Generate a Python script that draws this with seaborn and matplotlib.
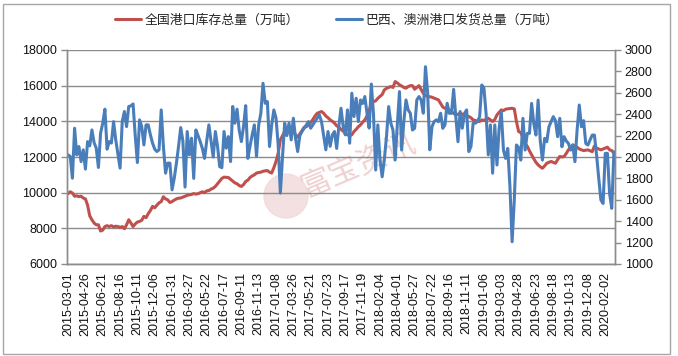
import matplotlib
matplotlib.use("Agg")
import matplotlib.pyplot as plt
import matplotlib.transforms as mtransforms
from matplotlib.patches import Rectangle, Circle
from matplotlib.font_manager import FontProperties
import numpy as np
import pandas as pd
import seaborn as sns

# 全国港口库存总量（万吨），周度数据，左轴
stock = [
    9950, 10050, 9980, 9800, 9820, 9780, 9800, 9700, 9650, 9300,
    8700, 8480, 8300, 8200, 8200, 7850, 7900, 8100, 8150, 8100,
    8150, 8080, 8120, 8100, 8050, 8100, 7980, 8200, 8480, 8300,
    8100, 8250, 8350, 8390, 8450, 8670, 8600, 8820, 9000, 9230,
    9150, 9300, 9430, 9500, 9770, 9650, 9600, 9450, 9500, 9580,
    9650, 9690, 9700, 9750, 9800, 9850, 9880, 9900, 9950, 9920,
    9940, 10000, 10050, 10000, 10100, 10120, 10200, 10250, 10350, 10500,
    10650, 10800, 10870, 10860, 10850, 10750, 10650, 10550, 10500, 10400,
    10350, 10450, 10630, 10700, 10850, 10940, 11000, 11100, 11130, 11150,
    11200, 11220, 11240, 11150, 11100, 11400, 11750, 12210, 12960, 13200,
    13430, 13380, 13480, 13520, 13400, 13250, 13110, 13300, 13500, 13670,
    13700, 13800, 13930, 14100, 14300, 14450, 14500, 14550, 14450, 14300,
    14200, 14080, 14000, 13900, 13750, 13670, 13550, 13450, 13330, 13250,
    13180, 13250, 13430, 13550, 13700, 13800, 13950, 14080, 14300, 14600,
    15010, 15100, 15150, 15290, 15400, 15500, 15760, 15850, 15900, 15950,
    15900, 16230, 16150, 16050, 15980, 15900, 15860, 15950, 16000, 16000,
    15800, 15900, 16000, 15780, 15570, 15450, 15390, 15380, 15350, 15300,
    15250, 15200, 15000, 14800, 14730, 14680, 14640, 14550, 14450, 14360,
    14400, 14450, 14400, 14350, 14300, 14270, 14200, 14080, 14050, 13990,
    14000, 14080, 14050, 14120, 14170, 14080, 13990, 14100, 14360, 14500,
    14640, 14600, 14680, 14700, 14720, 14730, 14700, 13990, 13430, 13370,
    13100, 12770, 12600, 12350, 12120, 11900, 11700, 11560, 11450, 11370,
    11500, 11650, 11700, 11750, 11700, 11650, 11850, 12030, 12000, 12030,
    12200, 12400, 12550, 12680, 12600, 12550, 12450, 12400, 12360, 12380,
    12400, 12350, 12300, 12620, 12500, 12450, 12400, 12450, 12500, 12550,
    12400, 12360, 12210,
]

# 巴西、澳洲港口发货总量（万吨），右轴
shipment = [
    2020, 2005, 1802, 2269, 2020, 2098, 1957, 2067, 1887, 2144,
    2104, 2253, 2135, 2083, 1902, 2222, 2316, 2447, 2073, 2144,
    2130, 2331, 2160, 2030, 1896, 2331, 2425, 2284, 2472, 2478,
    2496, 2200, 1948, 2347, 2284, 2113, 2300, 2300, 2207, 2130,
    2073, 2051, 2067, 2440, 2100, 1849, 1943, 1943, 1693, 1800,
    1940, 2100, 2275, 2150, 1719, 2238, 2020, 2176, 1800, 2253,
    2200, 2144, 2080, 1987, 2150, 2300, 2150, 2000, 2238, 2100,
    1910, 1900, 2238, 2083, 2191, 1957, 2472, 2316, 2447, 2250,
    2144, 2284, 2480, 1987, 2100, 2207, 2300, 2005, 2300, 2409,
    2689, 2502, 2518, 2098, 2300, 2440, 2362, 2113, 1663, 2000,
    2316, 2200, 2316, 2160, 2362, 2176, 2051, 2200, 2238, 2269,
    2300, 2331, 2269, 2300, 2331, 2362, 2394, 2331, 2200, 2067,
    2238, 2100, 2207, 2238, 2080, 2285, 2456, 2285, 2207, 2440,
    2129, 2596, 2378, 2549, 2331, 2533, 2500, 2565, 2410, 2270,
    2682, 2400, 1878, 2300, 1972, 1815, 1974, 2190, 2471, 2316,
    2252, 1972, 2300, 2611, 2065, 2331, 2533, 2440, 2409, 2252,
    2269, 2533, 2565, 2532, 2409, 2844, 2600, 2067, 2283, 2331,
    2347, 2330, 2409, 2268, 2300, 2502, 2408, 2409, 2632, 2378,
    2143, 2425, 2269, 2408, 2440, 2051, 2098, 2315, 2316, 2331,
    2377, 2673, 2642, 2400, 2020, 2300, 1849, 2300, 1925, 2269,
    2423, 2065, 1987, 2080, 1722, 1208, 1597, 2112, 2090, 1971,
    2361, 2065, 2221, 2221, 2501, 2314, 2205, 2532, 2150, 1971,
    2174, 2143, 2283, 2330, 2377, 2340, 2190, 2361, 2096, 2190,
    2150, 2127, 2065, 2112, 1956, 2250, 2486, 2283, 2340, 2127,
    2112, 2160, 2205, 2205, 2018, 1800, 1597, 1566, 2034, 2034,
    1660, 1520, 2049,
]

# 横轴日期标签，每 8 周一个
date_labels = [
    "2015-03-01", "2015-04-26", "2015-06-21", "2015-08-16", "2015-10-11",
    "2015-12-06", "2016-01-31", "2016-03-27", "2016-05-22", "2016-07-17",
    "2016-09-11", "2016-11-13", "2017-01-08", "2017-03-26", "2017-05-21",
    "2017-07-23", "2017-09-17", "2017-11-19", "2018-02-04", "2018-04-01",
    "2018-05-27", "2018-07-22", "2018-09-16", "2018-11-11", "2019-01-06",
    "2019-03-03", "2019-04-28", "2019-06-23", "2019-08-18", "2019-10-13",
    "2019-12-08", "2020-02-02",
]
label_step = 8

stock_name = "全国港口库存总量（万吨）"
ship_name = "巴西、澳洲港口发货总量（万吨）"

df = pd.DataFrame({"week": np.arange(len(stock)), "stock": stock, "shipment": shipment})

sns.set_style("white")
plt.rcParams["font.family"] = ["Liberation Sans", "Noto Sans CJK SC", "DejaVu Sans"]

RED = "#c0504d"
BLUE = "#4a7ebb"
GRID = "#8c8c8c"

W, H = 678, 356
fig = plt.figure(figsize=(W / 100, H / 100), dpi=100)
ax = fig.add_axes([67 / W, 1 - 264 / H, (615 - 67) / W, (264 - 50) / H])
ax.set_facecolor("none")

# 外框
fig.patches.append(Rectangle((3 / W, 1 - 354 / H), (670 - 3) / W, (354 - 4) / H,
                             transform=fig.transFigure, fill=False,
                             edgecolor="#a6a6a6", linewidth=1))

# 水印（图标 + 文字）
fig.patches.append(Circle((2.86, (H - 196) / 100), 0.22, transform=fig.dpi_scale_trans,
                          color="#f1d9d9", alpha=0.8, zorder=-1))
fig.text(358 / W, 1 - 165 / H, "富宝资讯", rotation=23, fontsize=22,
         color="#ecc9c9", alpha=0.85, ha="center", va="center",
         family=["Noto Sans CJK SC"], zorder=-1)

sns.lineplot(data=df, x="week", y="stock", ax=ax, color=RED, linewidth=2.2,
             label=stock_name, legend=False)
ax2 = ax.twinx()
sns.lineplot(data=df, x="week", y="shipment", ax=ax2, color=BLUE, linewidth=2.2,
             label=ship_name, legend=False)

ax.set_xlim(-0.5, len(stock) - 0.5)
ax.set_ylim(6000, 18000)
ax.set_yticks(range(6000, 18001, 2000))
ax2.set_ylim(1000, 3000)
ax2.set_yticks(range(1000, 3001, 200))

label_pos = [i * label_step for i in range(len(date_labels))]
ax.set_xticks(label_pos)
ax.set_xticklabels(date_labels, rotation=90, fontsize=9, color="#111111")
ax.set_xticks(np.arange(len(stock)), minor=True)
offset = mtransforms.ScaledTranslation(4 / 100, 0, fig.dpi_scale_trans)
for lbl in ax.get_xticklabels():
    lbl.set_transform(lbl.get_transform() + offset)

ax.yaxis.grid(True, color=GRID, linewidth=1)
ax.xaxis.grid(False)
ax.set_axisbelow(True)
ax.set_xlabel("")
ax.set_ylabel("")
ax2.set_ylabel("")

for a in (ax, ax2):
    for side in ("left", "right", "bottom"):
        a.spines[side].set_color(GRID)
        a.spines[side].set_linewidth(1)
    a.spines["top"].set_visible(False)

ax.tick_params(axis="x", which="both", direction="out", length=4, width=0.6,
               color=GRID, pad=2)
ax.tick_params(axis="y", direction="out", length=4, width=1, color=GRID,
               labelsize=9, labelcolor="#111111", pad=3)
ax2.tick_params(axis="y", direction="out", length=4, width=1, color=GRID,
                labelsize=9, labelcolor="#111111", pad=3)

handles = ax.get_lines()[:1] + ax2.get_lines()[:1]
fig.legend(handles, [stock_name, ship_name], loc="center",
           bbox_to_anchor=(0.497, 1 - 20 / H), ncol=2, frameon=False,
           prop=FontProperties(family=["Noto Sans CJK SC", "DejaVu Sans"], size=9.3),
           handlelength=2.0, handletextpad=0.3, columnspacing=2.8)

fig.savefig("out.png", dpi=100)
